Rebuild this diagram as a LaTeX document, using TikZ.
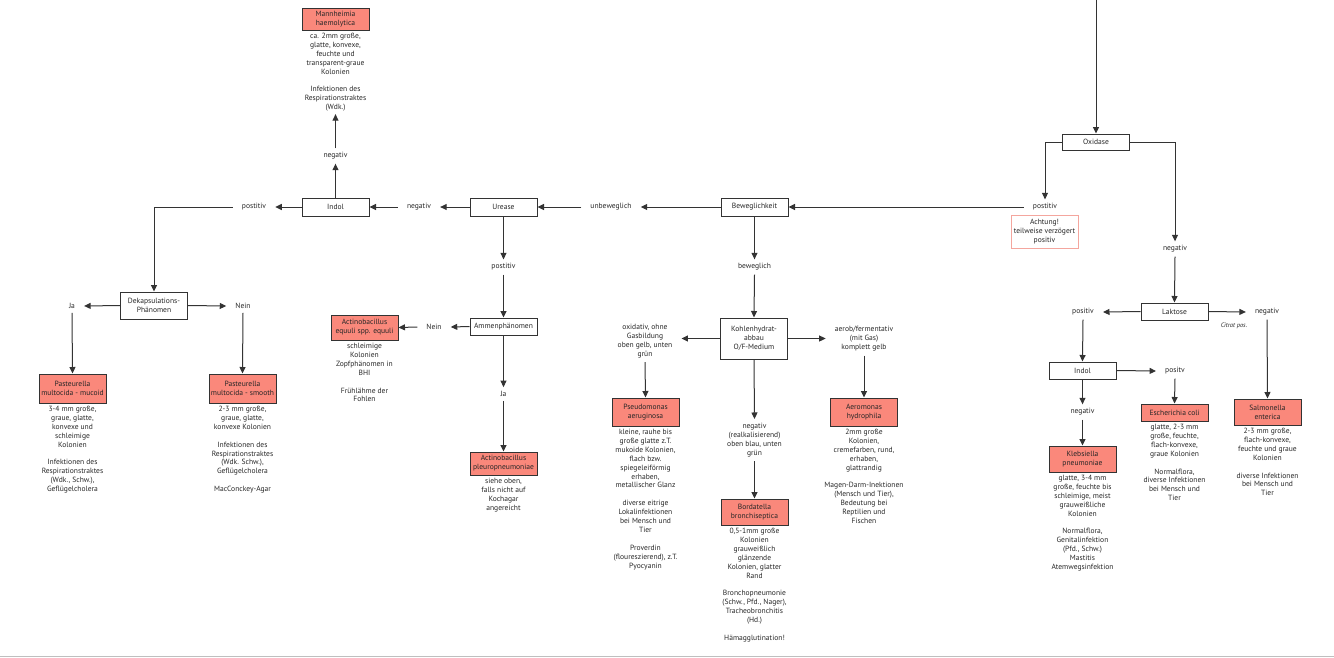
\documentclass[tikz,border=0pt]{standalone}
\usepackage{fontspec}
\setmainfont{PT Sans}
\usetikzlibrary{arrows.meta}
\definecolor{salmonc}{HTML}{FA887B}
\definecolor{linec}{HTML}{333333}
\definecolor{boxc}{HTML}{333333}
\definecolor{pinkb}{HTML}{F4A69E}
\definecolor{txtc}{HTML}{262626}
\begin{document}
\begin{tikzpicture}[x=1pt,y=-1pt,
  font=\fontsize{7.55}{8.9}\selectfont, text=txtc,
  box/.style={draw=boxc, line width=1pt, fill=white, minimum width=67pt, minimum height=18pt, align=center, inner sep=0.5pt},
  redbox/.style={box, fill=salmonc},
  lbl/.style={align=center, inner xsep=9pt, inner ysep=4pt},
  desc/.style={align=center, anchor=north, inner sep=2.5pt},
  arr/.style={draw=linec, line width=1pt, -{Triangle[length=6.5pt,width=6pt]}}]
\useasboundingbox (0,0) rectangle (1334,657);
\draw[black!25, line width=1pt] (0,656) -- (1334,656);

% left part
\node[redbox, minimum height=22pt] (mann) at (335.5,19) {Mannheimia\\haemolytica};
\node[desc] (manndesc) at (mann.south) {ca. 2mm große,\\glatte, konvexe,\\feuchte und\\transparent-graue\\Kolonien\\\mbox{}\\Infektionen des\\Respirationstraktes\\(Wdk.)};
\node[lbl] (neg1) at (335.5,156) {negativ};
\node[box] (indol1) at (335.5,207) {Indol};
\node[lbl] (neg2) at (419,207) {negativ};
\node[lbl] (pos1) at (254,207) {postitiv};
\node[box, minimum height=27pt] (dek) at (154,305.5) {Dekapsulations-\\Phänomen};
\node[lbl] (ja1) at (72,306) {Ja};
\node[lbl] (nein1) at (243,306) {Nein};
\node[redbox, minimum height=29pt] (pmuc) at (72.5,388.5) {Pasteurella\\multocida - mucoid};
\node[desc] (pmucdesc) at (pmuc.south) {3-4 mm große,\\graue, glatte,\\konvexe und\\schleimige\\Kolonien\\\mbox{}\\Infektionen des\\Respirationstraktes\\(Wdk., Schw.),\\Geflügelcholera};
\node[redbox, minimum height=29pt] (psmo) at (242.5,388.5) {Pasteurella\\multocida - smooth};
\node[desc] (psmodesc) at (psmo.south) {2-3 mm große,\\graue, glatte,\\konvexe Kolonien\\\mbox{}\\Infektionen des\\Respirationstraktes\\(Wdk. Schw.),\\Geflügelcholera\\\mbox{}\\MacConckey-Agar};

% urease branch
\node[box] (urease) at (503.5,207) {Urease};
\node[lbl] (unbew) at (611,207) {unbeweglich};
\node[lbl] (pos2) at (503.5,267) {postitiv};
\node[box, minimum height=17pt] (ammen) at (503.5,326.5) {Ammenphänomen};
\node[lbl] (nein2) at (434,327) {Nein};
\node[redbox, minimum height=25pt] (aeq) at (364.5,327.5) {Actinobacillus\\equuli spp. equuli};
\node[desc] (aeqdesc) at (aeq.south) {schleimige\\Kolonien\\Zopfphänomen in\\BHI\\\mbox{}\\Frühlähme der\\Fohlen};
\node[lbl] (ja2) at (503.5,394) {Ja};
\node[redbox, minimum height=23pt] (apl) at (503.5,463.5) {Actinobacillus\\pleuropneumoniae};
\node[desc] (apldesc) at (apl.south) {siehe oben,\\falls nicht auf\\Kochagar\\angereicht};

% beweglichkeit branch
\node[box] (bew) at (754.5,207) {Beweglichkeit};
\node[lbl] (bewegl) at (754.5,267) {beweglich};
\node[box, minimum height=41pt] (kh) at (754,338.5) {Kohlenhydrat-\\abbau\\O/F-Medium};
\node[lbl] (oxlbl) at (645,341) {oxidativ, ohne\\Gasbildung\\oben gelb, unten\\grün};
\node[redbox, minimum height=28pt] (pseu) at (645.5,412) {Pseudomonas\\aeruginosa};
\node[desc] (pseudesc) at (pseu.south) {kleine, rauhe bis\\große glatte z.T.\\mukoide Kolonien,\\flach bzw.\\spiegeleiförmig\\erhaben,\\metallischer Glanz\\\mbox{}\\diverse eitrige\\Lokalinfektionen\\bei Mensch und\\Tier\\\mbox{}\\Proverdin\\(floureszierend), z.T.\\Pyocyanin};
\node[lbl] (aerlbl) at (864,339) {aerob/fermentativ\\(mit Gas)\\komplett gelb};
\node[redbox, minimum height=28pt] (aer) at (864,412) {Aeromonas\\hydrophila};
\node[desc] (aerdesc) at (aer.south) {2mm große\\Kolonien,\\cremefarben, rund,\\erhaben,\\glattrandig\\\mbox{}\\Magen-Darm-Inektionen\\(Mensch und Tier),\\Bedeutung bei\\Reptilien und\\Fischen};
\node[lbl] (neglbl) at (754.5,440) {negativ\\(realkalisierend)\\oben blau, unten\\grün};
\node[redbox, minimum height=26pt] (bord) at (754.5,512) {Bordatella\\bronchiseptica};
\node[desc] (borddesc) at (bord.south) {0,5-1mm große\\Kolonien\\grauweißlich\\glänzende\\Kolonien, glatter\\Rand\\\mbox{}\\Bronchopneumonie\\(Schw., Pfd., Nager),\\Tracheobronchitis\\(Hd.)\\\mbox{}\\Hämagglutination!};

% right part
\coordinate (top) at (1096,0);
\node[box, minimum height=16pt] (ox) at (1096,142) {Oxidase};
\node[lbl] (pos3) at (1045,207) {postitiv};
\node[draw=pinkb, line width=0.9pt, fill=white, minimum width=67pt, minimum height=33pt, align=center, inner sep=0.5pt] (acht) at (1044.5,231.5) {Achtung!\\teilweise verzögert\\positiv};
\node[lbl] (negox) at (1175,249) {negativ};
\node[box, minimum height=17pt] (lak) at (1174.5,311.5) {Laktose};
\node[lbl] (pos4) at (1083,312) {positiv};
\node[lbl] (neg4) at (1267,312) {negativ};
\node[inner sep=0pt, font=\fontsize{6.4}{7}\selectfont\itshape] (citrat) at (1234,326) {Citrat pos.};
\node[box, minimum height=17pt] (indol2) at (1082.5,370.5) {Indol};
\node[lbl] (posv) at (1175,371) {positv};
\node[redbox, minimum height=17pt] (ecoli) at (1174.5,412.5) {Escherichia coli};
\node[desc] (ecolidesc) at (ecoli.south) {glatte, 2-3 mm\\große, feuchte,\\flach-konvexe,\\graue Kolonien\\\mbox{}\\Normalflora,\\diverse Infektionen\\bei Mensch und\\Tier};
\node[lbl] (negk) at (1082.5,412) {negativ};
\node[redbox, minimum height=26pt] (kleb) at (1082.5,459) {Klebsiella\\pneumoniae};
\node[desc] (klebdesc) at (kleb.south) {glatte, 3-4 mm\\große, feuchte bis\\schleimige, meist\\grauweißliche\\Kolonien\\\mbox{}\\Normalflora,\\Genitalinfektion\\(Pfd., Schw.)\\Mastitis\\Atemwegsinfektion};
\node[redbox, minimum height=26pt] (salm) at (1267.5,412) {Salmonella\\enterica};
\node[desc] (salmdesc) at (salm.south) {2-3 mm große,\\flach-konvexe,\\feuchte und graue\\Kolonien\\\mbox{}\\diverse Infektionen\\bei Mensch und\\Tier};

% connectors
\draw[arr] (indol1.north) -- (neg1.south);
\draw[arr] (neg1.north) -- (manndesc.south);
\draw[arr] (urease.west) -- (neg2.east);
\draw[arr] (neg2.west) -- (indol1.east);
\draw[arr] (indol1.west) -- (pos1.east);
\draw[arr] (pos1.west) -| (dek.north);
\draw[arr] (dek.west) -- (ja1.east);
\draw[arr] (dek.east) -- (nein1.west);
\draw[arr] (ja1.south) -- (pmuc.north);
\draw[arr] (nein1.south) -- (psmo.north);
\draw[arr] (bew.west) -- (unbew.east);
\draw[arr] (unbew.west) -- (urease.east);
\draw[arr] (urease.south) -- (pos2.north);
\draw[arr] (pos2.south) -- (ammen.north);
\draw[arr] (ammen.west) -- (nein2.east);
\draw[arr] (nein2.west) -- (aeq.east);
\draw[arr] (ammen.south) -- (ja2.north);
\draw[arr] (ja2.south) -- (apl.north);
\draw[arr] (pos3.west) -- (bew.east);
\draw[arr] (bew.south) -- (bewegl.north);
\draw[arr] (bewegl.south) -- (kh.north);
\draw[arr] (kh.west) -- (oxlbl.east |- kh.west);
\draw[arr] (oxlbl.south) -- (pseu.north);
\draw[arr] (kh.east) -- (aerlbl.west |- kh.east);
\draw[arr] (aerlbl.south) -- (aer.north);
\draw[arr] (kh.south) -- (neglbl.north);
\draw[arr] (neglbl.south) -- (bord.north);
\draw[arr] (top) -- (ox.north);
\draw[arr] (ox.west) -| (pos3.north);
\draw[arr] (ox.east) -| (negox.north);
\draw[arr] (negox.south) -- (lak.north);
\draw[arr] (lak.west) -- (pos4.east);
\draw[arr] (lak.east) -- (neg4.west);
\draw[arr] (pos4.south) -- (indol2.north);
\draw[arr] (neg4.south) -- (salm.north);
\draw[arr] (indol2.east) -- (posv.west);
\draw[arr] (posv.south) -- (ecoli.north);
\draw[arr] (indol2.south) -- (negk.north);
\draw[arr] (negk.south) -- (kleb.north);
\end{tikzpicture}
\end{document}
